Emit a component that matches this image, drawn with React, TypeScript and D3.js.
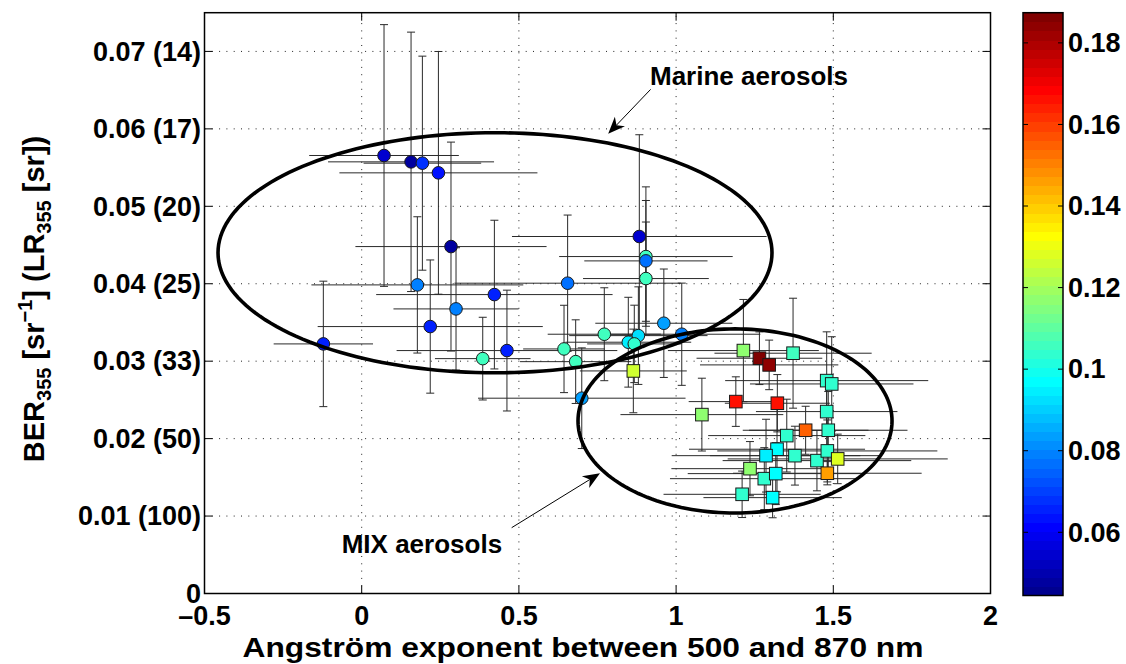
import React from 'react';
import * as d3 from 'd3';

// ---------- axis ticks ----------
const xTicks = [-0.5, 0, 0.5, 1, 1.5, 2];
const xTickLabels = ['\u20130.5', '0', '0.5', '1', '1.5', '2'];
const yTicks = [0, 0.01, 0.02, 0.03, 0.04, 0.05, 0.06, 0.07];
const yTickLabels = ['0', '0.01 (100)', '0.02 (50)', '0.03 (33)', '0.04 (25)', '0.05 (20)', '0.06 (17)', '0.07 (14)'];
const cTicks = [0.06, 0.08, 0.1, 0.12, 0.14, 0.16, 0.18];
const cTickLabels = ['0.06', '0.08', '0.1', '0.12', '0.14', '0.16', '0.18'];
const cDomain = [0.0445, 0.1874];
const xDomain = [-0.5, 2];
const yDomain = [0, 0.075];

// ---------- Marine aerosols (circles) ----------
const marineX = [0.071, 0.157, 0.193, 0.244, 0.284, 0.177, 0.218, 0.300, 0.422, 0.385, 0.462, -0.122, 0.655, 0.883, 0.904, 0.904, 0.904, 0.700, 0.6435, 0.6806, 0.7716, 0.848, 0.880, 0.867, 0.961, 1.018];
const marineY = [0.05656, 0.05574, 0.05557, 0.05432, 0.0448, 0.03985, 0.03447, 0.03675, 0.0386, 0.03033, 0.03137, 0.03223, 0.04007, 0.0461, 0.04351, 0.04295, 0.04067, 0.02522, 0.03158, 0.02994, 0.03348, 0.03245, 0.0333, 0.03223, 0.0349, 0.03348];
const marineXErr = [0.238, 0.264, 0.187, 0.315, 0.304, 0.337, 0.358, 0.199, 0.376, 0.152, 0.351, 0.158, 0.36, 0.405, 0.276, 0.196, 0.2, 0.33, 0.13, 0.177, 0.18, 0.2, 0.22, 0.15, 0.218, 0.25];
const marineYErr = [0.0169, 0.01675, 0.01382, 0.01567, 0.01349, 0.0088, 0.0086, 0.0079, 0.0096, 0.00534, 0.0078, 0.0081, 0.0088, 0.01314, 0.009, 0.0078, 0.0073, 0.0065, 0.00564, 0.0054, 0.006, 0.0058, 0.0063, 0.005, 0.007, 0.0066];
const marineC = [0.055, 0.047, 0.068, 0.064, 0.047, 0.079, 0.065, 0.079, 0.065, 0.107, 0.065, 0.065, 0.077, 0.055, 0.107, 0.076, 0.105, 0.083, 0.105, 0.105, 0.105, 0.094, 0.093, 0.104, 0.084, 0.078];

// ---------- MIX aerosols (squares) ----------
const mixX = [0.864, 1.214, 1.265, 1.296, 1.372, 1.479, 1.495, 1.190, 1.322, 1.479, 1.082, 1.412, 1.484, 1.352, 1.321, 1.286, 1.378, 1.448, 1.481, 1.514, 1.481, 1.235, 1.2805, 1.317, 1.210, 1.307];
const mixY = [0.02874, 0.03137, 0.03038, 0.02952, 0.03103, 0.02749, 0.02706, 0.02478, 0.02457, 0.02349, 0.0231, 0.02108, 0.02108, 0.02039, 0.01863, 0.0178, 0.0178, 0.01716, 0.01841, 0.01738, 0.01553, 0.01612, 0.01483, 0.01548, 0.01281, 0.01238];
const mixXErr = [0.17, 0.24, 0.2, 0.22, 0.25, 0.323, 0.26, 0.15, 0.167, 0.225, 0.259, 0.2, 0.252, 0.25, 0.28, 0.3, 0.27, 0.3, 0.35, 0.35, 0.3, 0.25, 0.3, 0.28, 0.25, 0.22];
const mixYErr = [0.0054, 0.0066, 0.0034, 0.0032, 0.0071, 0.0063, 0.0061, 0.0032, 0.0037, 0.0045, 0.0047, 0.0031, 0.005, 0.0047, 0.0055, 0.0047, 0.0038, 0.0039, 0.004, 0.0032, 0.0015, 0.0035, 0.004, 0.004, 0.003, 0.0026];
const mixC = [0.127, 0.116, 0.187, 0.185, 0.105, 0.104, 0.104, 0.167, 0.167, 0.104, 0.116, 0.156, 0.104, 0.103, 0.096, 0.095, 0.103, 0.104, 0.104, 0.128, 0.146, 0.117, 0.103, 0.096, 0.104, 0.096];

// ---------- ellipses (centre x, centre y, radius x, radius y) ----------
const ellipseCX = [0.424, 1.1874];
const ellipseCY = [0.044, 0.02228];
const ellipseRX = [0.881, 0.4994];
const ellipseRY = [0.0155, 0.01189];

// ---------- annotations ----------
const annoText = ['Marine aerosols', 'MIX aerosols'];
const annoTextX = [0.917, -0.0636];
const annoTextY = [0.0657, 0.00527];
const annoFromX = [0.919, 0.477];
const annoFromY = [0.0651, 0.0085];
const annoToX = [0.784, 0.758];
const annoToY = [0.05936, 0.01553];

// MATLAB jet colormap
function jet(m: number): number[][] {
  const n = Math.ceil(m / 4);
  const u: number[] = [];
  for (let i = 1; i <= n; i++) u.push(i / n);
  for (let i = 1; i < n; i++) u.push(1);
  for (let i = n; i >= 1; i--) u.push(i / n);
  const g0 = Math.ceil(n / 2) - (m % 4 === 1 ? 1 : 0);
  const J = Array.from({ length: m }, () => [0, 0, 0]);
  for (let k = 0; k < u.length; k++) {
    const g = g0 + k + 1;
    const r = g + n;
    const b = g - n;
    if (g >= 1 && g <= m) J[g - 1][1] = u[k];
    if (r >= 1 && r <= m) J[r - 1][0] = u[k];
    if (b >= 1 && b <= m) J[b - 1][2] = u[k];
  }
  return J;
}
const JET = jet(64);
const jetCss = (i: number) => {
  const c = JET[i];
  return `rgb(${Math.round(c[0] * 255)},${Math.round(c[1] * 255)},${Math.round(c[2] * 255)})`;
};
const colorOf = (v: number) => {
  let idx = Math.floor(((v - cDomain[0]) / (cDomain[1] - cDomain[0])) * 64);
  idx = Math.max(0, Math.min(63, idx));
  return jetCss(idx);
};

const FONT = '"Liberation Sans", Arial, Helvetica, sans-serif';

export default function App() {
  const L = 204.5, R = 990.5, T = 12.7, B = 593.5;
  const x = d3.scaleLinear().domain(xDomain).range([L, R]);
  const y = d3.scaleLinear().domain(yDomain).range([B, T]);
  const cbL = 1023, cbR = 1063, cbT = 12.7, cbB = 595.5;
  const cy = d3.scaleLinear().domain(cDomain).range([cbB, cbT]);

  const cap = 4;
  const tickLen = 8;

  const marine = marineX.map((v, i) => ({ x: v, y: marineY[i], ex: marineXErr[i], ey: marineYErr[i], c: marineC[i] }));
  const mix = mixX.map((v, i) => ({ x: v, y: mixY[i], ex: mixXErr[i], ey: mixYErr[i], c: mixC[i] }));

  const ellipsePath = (i: number) => {
    const pts = d3.range(0, 361, 2).map((a) => {
      const t = (a * Math.PI) / 180;
      return [ellipseCX[i] + ellipseRX[i] * Math.cos(t), ellipseCY[i] + ellipseRY[i] * Math.sin(t)] as [number, number];
    });
    return d3.line<[number, number]>().x((d) => x(d[0])).y((d) => y(d[1]))(pts) || '';
  };

  const errBars = (d: { x: number; y: number; ex: number; ey: number }, key: string) => {
    const px = x(d.x), py = y(d.y);
    const y1 = y(d.y + d.ey), y2 = y(d.y - d.ey);
    const x1 = x(d.x - d.ex), x2 = x(d.x + d.ex);
    return (
      <g key={key} stroke="#2a2a2a" strokeWidth={1} fill="none">
        <line x1={px} x2={px} y1={y1} y2={y2} />
        <line x1={px - cap} x2={px + cap} y1={y1} y2={y1} />
        <line x1={px - cap} x2={px + cap} y1={y2} y2={y2} />
        <line x1={x1} x2={x2} y1={py} y2={py} />
      </g>
    );
  };

  const arrow = (i: number) => {
    const fx = x(annoFromX[i]), fy = y(annoFromY[i]);
    const tx = x(annoToX[i]), ty = y(annoToY[i]);
    const ang = Math.atan2(ty - fy, tx - fx);
    const len = 17, hw = 7, notch = 12;
    const ux = Math.cos(ang), uy = Math.sin(ang);
    const nx = -uy, ny = ux;
    const bx = tx - ux * len, by = ty - uy * len;
    const head = [
      [tx, ty],
      [bx + nx * hw, by + ny * hw],
      [tx - ux * notch, ty - uy * notch],
      [bx - nx * hw, by - ny * hw],
    ];
    return (
      <g key={'ar' + i}>
        <line x1={fx} y1={fy} x2={tx - ux * notch} y2={ty - uy * notch} stroke="#000" strokeWidth={1} />
        <path d={'M' + head.map((p) => p.join(',')).join('L') + 'Z'} fill="#000" />
      </g>
    );
  };

  const bands = d3.range(64).map((i) => {
    const step = (cDomain[1] - cDomain[0]) / 64;
    const v0 = cDomain[0] + i * step, v1 = v0 + step;
    return <rect key={'cb' + i} x={cbL} width={cbR - cbL} y={cy(v1)} height={cy(v0) - cy(v1) + 0.5} fill={jetCss(i)} />;
  });

  const ms = 12.6; // square side
  return (
    <svg width={1126} height={664} style={{ position: 'absolute', left: 0, top: 0, background: '#fff' }} fontFamily={FONT} fontWeight="bold">
      <rect x={0} y={0} width={1126} height={664} fill="#fff" />
      {/* grid */}
      <g stroke="#222" strokeWidth={1} strokeDasharray="1,6.3">
        {xTicks.filter((t) => t > xDomain[0] && t < xDomain[1]).map((t) => (
          <line key={'gx' + t} x1={x(t)} x2={x(t)} y1={B} y2={T} />
        ))}
        {yTicks.filter((t) => t > yDomain[0]).map((t) => (
          <line key={'gy' + t} x1={L} x2={R} y1={y(t)} y2={y(t)} />
        ))}
      </g>
      {/* error bars */}
      {marine.map((d, i) => errBars(d, 'me' + i))}
      {mix.map((d, i) => errBars(d, 'xe' + i))}
      {/* markers */}
      {marine.map((d, i) => (
        <circle key={'mc' + i} cx={x(d.x)} cy={y(d.y)} r={6.3} fill={colorOf(d.c)} stroke="#1a1a1a" strokeWidth={1} />
      ))}
      {mix.map((d, i) => (
        <rect key={'xs' + i} x={x(d.x) - ms / 2} y={y(d.y) - ms / 2} width={ms} height={ms} fill={colorOf(d.c)} stroke="#1a1a1a" strokeWidth={1} />
      ))}
      {/* ellipses */}
      {[0, 1].map((i) => (
        <path key={'el' + i} d={ellipsePath(i)} fill="none" stroke="#000" strokeWidth={3.6} />
      ))}
      {/* annotations */}
      {[0, 1].map((i) => arrow(i))}
      {annoText.map((t, i) => (
        <text key={'at' + i} x={x(annoTextX[i])} y={y(annoTextY[i])} fontSize={26}>{t}</text>
      ))}
      {/* axes box */}
      <rect x={L} y={T} width={R - L} height={B - T} fill="none" stroke="#000" strokeWidth={1.5} />
      <g stroke="#000" strokeWidth={1}>
        {xTicks.map((t) => (
          <g key={'xt' + t}>
            <line x1={x(t)} x2={x(t)} y1={B} y2={B - tickLen} />
            <line x1={x(t)} x2={x(t)} y1={T} y2={T + tickLen} />
          </g>
        ))}
        {yTicks.map((t) => (
          <g key={'yt' + t}>
            <line x1={L} x2={L + tickLen} y1={y(t)} y2={y(t)} />
            <line x1={R} x2={R - tickLen} y1={y(t)} y2={y(t)} />
          </g>
        ))}
      </g>
      {xTicks.map((t, i) => (
        <text key={'xl' + t} x={x(t)} y={624.5} fontSize={27} textAnchor="middle">{xTickLabels[i]}</text>
      ))}
      {yTicks.map((t, i) => (
        <text key={'yl' + t} x={201} y={y(t) + 9.3} fontSize={27} textAnchor="end">{yTickLabels[i]}</text>
      ))}
      {/* axis titles */}
      <text x={583} y={657} fontSize={28} textAnchor="middle" textLength={681} lengthAdjust="spacingAndGlyphs">Angström exponent between 500 and 870 nm</text>
      <text transform="translate(43.5,299) rotate(-90)" fontSize={29} textAnchor="middle">
        BER<tspan fontSize={20} dy={7}>355</tspan>
        <tspan dy={-7}> [sr</tspan>
        <tspan fontSize={20} dy={-12}>−1</tspan>
        <tspan dy={12}>] (LR</tspan>
        <tspan fontSize={20} dy={7}>355</tspan>
        <tspan dy={-7}> [sr])</tspan>
      </text>
      {/* colorbar */}
      <g shapeRendering="crispEdges">{bands}</g>
      <rect x={cbL} y={cbT} width={cbR - cbL} height={cbB - cbT} fill="none" stroke="#000" strokeWidth={1.5} />
      <g stroke="#000" strokeWidth={1}>
        {cTicks.map((t) => (
          <g key={'ct' + t}>
            <line x1={cbL} x2={cbL + 5} y1={cy(t)} y2={cy(t)} />
            <line x1={cbR} x2={cbR - 5} y1={cy(t)} y2={cy(t)} />
          </g>
        ))}
      </g>
      {cTicks.map((t, i) => (
        <text key={'cl' + t} x={1068} y={cy(t) + 9.3} fontSize={27}>{cTickLabels[i]}</text>
      ))}
    </svg>
  );
}
